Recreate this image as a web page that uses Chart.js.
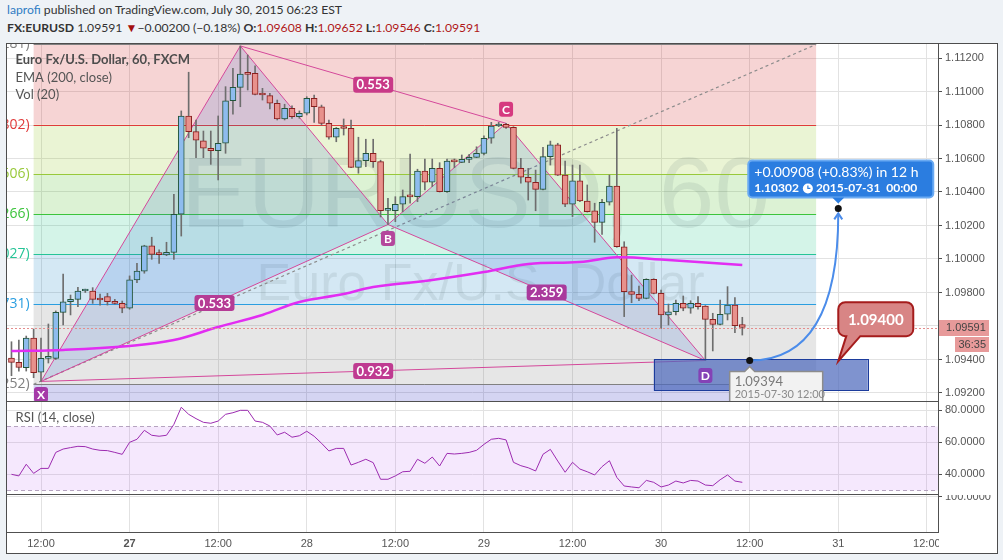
<!DOCTYPE html>
<html>
<head>
<meta charset="utf-8">
<title>EURUSD, 60</title>
<script src="https://cdn.jsdelivr.net/npm/chart.js@4.4.1/dist/chart.umd.min.js"></script>
<style>
body { margin: 0; width: 1003px; height: 560px; background: #eef2f6; overflow: hidden; font-family: Lato, sans-serif; }
#head { position: absolute; left: 7px; top: 1px; font-size: 12.2px; line-height: 18px; color: #333; white-space: nowrap; }
#head .user { color: #2f7cc4; }
#head .dn { color: #a30f0f; font-size: 12px; }
#head .v { color: #b01818; }
#frame { position: absolute; left: 6px; top: 43px; width: 990px; height: 509px; border: 1px solid #4d4d4d; background: #fff; }
canvas { position: absolute; left: 7px; }
</style>
</head>
<body>
<div id="head">
  <div><span class="user">laprofi</span> published on TradingView.com, July 30, 2015 06:23 EST</div>
  <div id="quote"></div>
</div>
<div id="frame"></div>
<canvas id="price" width="990" height="358" style="top:44px"></canvas>
<canvas id="rsi" width="990" height="93" style="top:402px"></canvas>
<canvas id="vol" width="990" height="57" style="top:495px"></canvas>

<script>
// hourly candles, time counted in hours from 2015-07-26 00:00
const firstHour = 8
const opens = [
    1.09409, 1.09383, 1.09351, 1.09528, 1.09324, 1.09407, 1.09407, 1.09681, 1.09745, 1.09759,
    1.09809, 1.09809, 1.09757, 1.09775, 1.09745, 1.09735, 1.09706, 1.09875, 1.09928, 1.10079,
    1.10028, 1.10024, 1.10040, 1.10267, 1.10854, 1.10760, 1.10706, 1.10661, 1.10647, 1.10691,
    1.10945, 1.11025, 1.11104, 1.11109, 1.10981, 1.10975, 1.10930, 1.10836, 1.10900, 1.10850,
    1.10870, 1.10959, 1.10909, 1.10810, 1.10727, 1.10781, 1.10780, 1.10547, 1.10587, 1.10631,
    1.10581, 1.10290, 1.10288, 1.10327, 1.10373, 1.10372, 1.10525, 1.10458, 1.10541, 1.10402,
    1.10582, 1.10577, 1.10595, 1.10607, 1.10631, 1.10721, 1.10794, 1.10804, 1.10786, 1.10541,
    1.10488, 1.10458, 1.10416, 1.10611, 1.10681, 1.10501, 1.10327, 1.10467, 1.10346, 1.10287,
    1.10219, 1.10339, 1.10435, 1.10073, 1.09805, 1.09789, 1.09765, 1.09879, 1.09795, 1.09666,
    1.09685, 1.09735, 1.09706, 1.09735, 1.09719, 1.09640, 1.09610, 1.09670, 1.09725, 1.09608,
]
const highs = [
    1.09506, 1.09516, 1.09540, 1.09582, 1.09528, 1.09612, 1.09690, 1.09910, 1.09785, 1.09831,
    1.09820, 1.09829, 1.09791, 1.09795, 1.09759, 1.09749, 1.09899, 1.09974, 1.10082, 1.10130,
    1.10054, 1.10100, 1.10386, 1.10884, 1.11115, 1.10830, 1.10764, 1.10764, 1.10854, 1.11029,
    1.11139, 1.11272, 1.11218, 1.11154, 1.11019, 1.10989, 1.10949, 1.10924, 1.10915, 1.10884,
    1.10969, 1.10979, 1.10919, 1.10830, 1.10785, 1.10836, 1.10830, 1.10727, 1.10715, 1.10715,
    1.10590, 1.10362, 1.10372, 1.10412, 1.10627, 1.10536, 1.10597, 1.10597, 1.10575, 1.10597,
    1.10597, 1.10621, 1.10625, 1.10670, 1.10736, 1.10816, 1.10816, 1.10810, 1.10790, 1.10601,
    1.10541, 1.10531, 1.10667, 1.10704, 1.10691, 1.10585, 1.10561, 1.10561, 1.10442, 1.10333,
    1.10356, 1.10501, 1.10780, 1.10103, 1.09904, 1.09839, 1.09882, 1.09882, 1.09815, 1.09731,
    1.09755, 1.09779, 1.09751, 1.09775, 1.09722, 1.09676, 1.09755, 1.09835, 1.09769, 1.09652,
]
const lows = [
    1.09303, 1.09331, 1.09331, 1.09291, 1.09269, 1.09379, 1.09400, 1.09606, 1.09666, 1.09715,
    1.09800, 1.09735, 1.09725, 1.09725, 1.09731, 1.09679, 1.09700, 1.09859, 1.09915, 1.09998,
    1.09974, 1.10020, 1.09998, 1.10137, 1.10724, 1.10605, 1.10605, 1.10565, 1.10472, 1.10631,
    1.10864, 1.10909, 1.11009, 1.10980, 1.10949, 1.10896, 1.10830, 1.10830, 1.10840, 1.10840,
    1.10860, 1.10816, 1.10800, 1.10715, 1.10700, 1.10740, 1.10545, 1.10512, 1.10551, 1.10547,
    1.10251, 1.10206, 1.10223, 1.10282, 1.10333, 1.10342, 1.10412, 1.10432, 1.10400, 1.10398,
    1.10545, 1.10575, 1.10575, 1.10605, 1.10621, 1.10691, 1.10790, 1.10780, 1.10538, 1.10452,
    1.10352, 1.10288, 1.10412, 1.10561, 1.10498, 1.10312, 1.10253, 1.10343, 1.10280, 1.10100,
    1.10147, 1.10322, 1.10070, 1.09656, 1.09739, 1.09751, 1.09762, 1.09792, 1.09586, 1.09606,
    1.09666, 1.09691, 1.09676, 1.09700, 1.09394, 1.09451, 1.09607, 1.09636, 1.09560, 1.09546,
]
const closes = [
    1.09383, 1.09352, 1.09528, 1.09322, 1.09407, 1.09410, 1.09681, 1.09745, 1.09759, 1.09809,
    1.09811, 1.09759, 1.09755, 1.09745, 1.09735, 1.09706, 1.09875, 1.09928, 1.10079, 1.10028,
    1.10026, 1.10040, 1.10267, 1.10854, 1.10760, 1.10710, 1.10661, 1.10647, 1.10691, 1.10945,
    1.11025, 1.11104, 1.11102, 1.10983, 1.10979, 1.10930, 1.10836, 1.10900, 1.10850, 1.10870,
    1.10959, 1.10909, 1.10810, 1.10727, 1.10780, 1.10779, 1.10547, 1.10587, 1.10631, 1.10581,
    1.10288, 1.10292, 1.10327, 1.10372, 1.10371, 1.10525, 1.10458, 1.10541, 1.10402, 1.10585,
    1.10580, 1.10595, 1.10607, 1.10631, 1.10721, 1.10794, 1.10804, 1.10786, 1.10541, 1.10488,
    1.10458, 1.10416, 1.10611, 1.10681, 1.10501, 1.10327, 1.10467, 1.10346, 1.10282, 1.10219,
    1.10339, 1.10435, 1.10073, 1.09805, 1.09789, 1.09765, 1.09879, 1.09795, 1.09666, 1.09685,
    1.09735, 1.09706, 1.09735, 1.09715, 1.09640, 1.09610, 1.09670, 1.09725, 1.09602, 1.09591,
]
const rsi = [
    39.8, 38.8, 46.1, 40.4, 43.5, 43.5, 53.5, 55.6, 56.5, 57.3,
    57.1, 55.6, 54.8, 54.6, 53.5, 52.3, 59.8, 61.7, 67.3, 64.2,
    63.6, 64.2, 71.0, 81.7, 77.3, 74.6, 72.3, 71.7, 73.1, 77.3,
    78.3, 79.8, 79.8, 73.1, 72.3, 70.0, 64.4, 66.1, 63.0, 63.9,
    66.7, 63.6, 59.2, 54.4, 56.0, 56.0, 45.6, 47.3, 49.2, 47.1,
    36.7, 36.7, 38.8, 41.4, 41.7, 49.2, 46.7, 50.6, 45.0, 52.9,
    52.5, 52.9, 53.5, 54.8, 58.5, 61.7, 62.3, 61.3, 47.3, 45.2,
    43.9, 41.9, 52.3, 55.4, 48.1, 41.1, 47.3, 43.1, 41.4, 39.4,
    44.6, 48.3, 37.9, 32.5, 31.9, 31.4, 36.0, 34.8, 31.9, 33.1,
    35.6, 34.4, 36.0, 35.6, 33.1, 32.7, 36.4, 39.4, 35.6, 34.8,
]
// EMA(200) read at a few hours
const emaHours = [8, 15, 24, 30, 36, 42, 47, 53, 57, 65, 72, 78, 85, 90, 96, 107]
const emaValues = [1.09451, 1.09457, 1.09481, 1.09516, 1.09594, 1.09666, 1.09743, 1.09791,
    1.09833, 1.09875, 1.09922, 1.09970, 1.09982, 1.10010, 1.09997, 1.09964]

const timeTicks = [12, 24, 36, 48, 60, 72, 84, 96, 108, 120, 132]
const priceTicks = [1.092, 1.094, 1.096, 1.098, 1.1, 1.102, 1.104, 1.106, 1.108, 1.11, 1.112]
const rsiTicks = [40, 60, 80]
const volTicks = [100]

// fib retracement drawn from hour 11 to hour 117
const fibFrom = 11
const fibTo = 117
const fibRatios = ['0', '0.236', '0.382', '0.5', '0.618', '0.764', '1']
const fibPrices = [1.11281, 1.10802, 1.10506, 1.10266, 1.10027, 1.09731, 1.09252]

// XABCD pattern
const patternNames = ['X', 'A', 'B', 'C', 'D']
const patternTimes = [12, 39, 59, 75, 102]
const patternPrices = [1.09269, 1.11272, 1.10206, 1.10810, 1.09394]
const legRatios = [[0, 2, '0.533'], [1, 3, '0.553'], [2, 4, '2.359'], [0, 4, '0.932']]

// projection and notes
const zoneHours = [95, 124]
const zonePrices = [1.09214, 1.094]
const moveHours = [108, 120]
const movePrices = [1.09394, 1.10302]
const noteHour = 120
const notePrice = 1.0939
const noteText = '1.09400'
const countdown = '36:35'
const dayChange = '\u22120.00200 (\u22120.18%)'

const viewHours = [7.394, 133.51]
const priceRange = [1.091522, 1.112836]
const rsiRange = [27.5, 85]
const volRange = [0, 105.7]

// ------------------------------------------------------------------
const gridColor = '#e2e2e2'
const frameColor = '#505050'
const ui = 'Lato, sans-serif'

const last = closes.length - 1
document.getElementById('quote').innerHTML =
    '<b>FX:EURUSD</b> ' + closes[last].toFixed(5) + ' <span class="dn">\u25BC</span>' + dayChange +
    ' <b>O:</b><span class="v">' + opens[last].toFixed(5) + '</span>' +
    ' <b>H:</b><span class="v">' + highs[last].toFixed(5) + '</span>' +
    ' <b>L:</b><span class="v">' + lows[last].toFixed(5) + '</span>' +
    ' <b>C:</b><span class="v">' + closes[last].toFixed(5) + '</span>'

const times = opens.map((_, i) => firstHour + i)
const bull = opens.map((o, i) => closes[i] >= o)
const pad = n => String(n).padStart(2, '0')
const dayOf = h => '2015-07-' + (26 + Math.floor(h / 24))
const pt = i => ({ x: patternTimes[i], y: patternPrices[i] })

Chart.defaults.font.family = '"Liberation Sans", Arial, sans-serif'
Chart.defaults.font.size = 11
Chart.defaults.color = '#555'
Chart.defaults.animation = false
Chart.defaults.events = []
Chart.defaults.plugins.legend.display = false
Chart.defaults.plugins.tooltip.enabled = false

function timeAxis(height, labels) {
    return {
        type: 'linear', min: viewHours[0], max: viewHours[1], offset: false,
        grid: { color: gridColor, drawTicks: false, offset: false },
        border: { color: frameColor },
        ticks: {
            display: labels, maxRotation: 0, autoSkip: false, padding: 5,
            callback: v => (v % 24 === 0 ? String(26 + v / 24) : '12:00'),
            font: c => ({ size: 11, weight: c.tick && c.tick.value === 24 ? 'bold' : 'normal' }),
        },
        afterBuildTicks: s => { s.ticks = timeTicks.map(v => ({ value: v })) },
        afterFit: s => { s.height = height; s.paddingLeft = 0; s.paddingRight = 0 },
    }
}
function valueAxis(range, ticks, digits) {
    return {
        type: 'linear', position: 'right', min: range[0], max: range[1],
        grid: { color: gridColor, tickLength: 4, tickColor: frameColor },
        border: { color: frameColor },
        ticks: { padding: 3, autoSkip: false, callback: v => v.toFixed(digits) },
        afterBuildTicks: s => { s.ticks = ticks.map(v => ({ value: v })) },
        afterFit: s => { s.width = 59; s.paddingTop = 0; s.paddingBottom = 0 },
    }
}
function clipArea(ctx, a) {
    ctx.beginPath()
    ctx.rect(a.left, a.top, a.width, a.height)
    ctx.clip()
}
function tag(ctx, cx, cy, w, h, fill, text, font) {
    ctx.fillStyle = fill
    ctx.beginPath()
    ctx.roundRect(cx - w / 2, cy - h / 2, w, h, 3)
    ctx.fill()
    ctx.fillStyle = '#fff'
    ctx.font = font
    ctx.textAlign = 'center'
    ctx.textBaseline = 'middle'
    ctx.fillText(text, cx, cy + 0.5)
}

const fibColors = ['#808080', '#e03a3a', '#98c93a', '#3cc43c', '#26c496', '#2a9ee0', '#808080']
const fibFills = ['rgba(210,40,40,0.2)', 'rgba(150,200,40,0.2)', 'rgba(80,190,40,0.2)',
    'rgba(40,200,140,0.2)', 'rgba(40,140,200,0.2)', 'rgba(128,128,128,0.2)', 'rgba(40,40,190,0.2)']
const tagColors = ['#a53aa8', '#c23a8e', '#b4479c', '#d6397f', '#8442b6']
const tagOffsets = [13, -14, 14, -14, 15]
const legColors = ['#b53b95', '#c93a88', '#a93a9d', '#bf3b91']

const priceDecor = {
    id: 'priceDecor',
    beforeDatasetsDraw(chart) {
        const { ctx, chartArea: a, scales: { x, y } } = chart
        const x0 = x.getPixelForValue(fibFrom), x1 = x.getPixelForValue(fibTo)
        ctx.save()
        clipArea(ctx, a)
        fibPrices.forEach((p, i) => {
            const top = y.getPixelForValue(p)
            const bot = i + 1 < fibPrices.length ? y.getPixelForValue(fibPrices[i + 1]) : a.bottom
            ctx.fillStyle = fibFills[i]
            ctx.fillRect(x0, top, x1 - x0, bot - top)
        })
        // watermark
        const cx = (a.left + a.right) / 2
        ctx.fillStyle = 'rgba(60,95,95,0.11)'
        ctx.textAlign = 'center'
        ctx.textBaseline = 'alphabetic'
        ctx.font = '100px "Liberation Sans", Arial, sans-serif'
        ctx.fillText('EURUSD, 60', cx + 3, a.top + 183)
        ctx.font = '52px "Liberation Sans", Arial, sans-serif'
        ctx.fillText('Euro Fx/U.S. Dollar', cx + 8, a.top + 256)
        // fib levels
        ctx.font = '14px "Open Sans", sans-serif'
        ctx.textAlign = 'right'
        ctx.textBaseline = 'middle'
        ctx.lineWidth = 1
        fibPrices.forEach((p, i) => {
            const ly = Math.round(y.getPixelForValue(p)) + 0.5
            ctx.strokeStyle = fibColors[i]
            ctx.beginPath()
            ctx.moveTo(x0, ly)
            ctx.lineTo(x1, ly)
            ctx.stroke()
            ctx.fillStyle = fibColors[i]
            ctx.fillText(fibRatios[i] + '(' + p.toFixed(5) + ')', x0 - 4, ly)
        })
        ctx.setLineDash([3, 3])
        ctx.strokeStyle = '#8c8c8c'
        ctx.lineWidth = 1.2
        ctx.beginPath()
        ctx.moveTo(x0, y.getPixelForValue(fibPrices[fibPrices.length - 1]))
        ctx.lineTo(x1, y.getPixelForValue(fibPrices[0]))
        ctx.stroke()
        ctx.setLineDash([])
        // pattern fills
        ctx.fillStyle = 'rgba(40,100,210,0.16)'
        ;[[0, 1, 2], [2, 3, 4]].forEach(tri => {
            ctx.beginPath()
            tri.forEach((i, k) => {
                const px = x.getPixelForValue(patternTimes[i]), py = y.getPixelForValue(patternPrices[i])
                k ? ctx.lineTo(px, py) : ctx.moveTo(px, py)
            })
            ctx.closePath()
            ctx.fill()
        })
        ctx.restore()
    },
    afterDatasetsDraw(chart) {
        const { ctx, chartArea: a, scales: { x, y } } = chart
        const px = v => x.getPixelForValue(v), py = v => y.getPixelForValue(v)
        ctx.save()
        clipArea(ctx, a)
        // last price line
        const ly = Math.round(py(closes[last])) + 0.5
        ctx.strokeStyle = '#e48c8c'
        ctx.lineWidth = 1
        ctx.setLineDash([2, 2])
        ctx.beginPath()
        ctx.moveTo(a.left, ly)
        ctx.lineTo(a.right, ly)
        ctx.stroke()
        ctx.setLineDash([])
        // target zone
        const zl = px(zoneHours[0]), zr = px(zoneHours[1]), zt = py(zonePrices[1]), zb = py(zonePrices[0])
        ctx.fillStyle = 'rgba(78,106,188,0.72)'
        ctx.fillRect(zl, zt, zr - zl, zb - zt)
        ctx.strokeStyle = '#1c3c9c'
        ctx.strokeRect(Math.round(zl) + 0.5, Math.round(zt) + 0.5, Math.round(zr - zl), Math.round(zb - zt))
        // pattern tags
        const P = i => [px(patternTimes[i]), py(patternPrices[i])]
        legRatios.forEach(([i, j, text], k) => {
            const [x1, y1] = P(i), [x2, y2] = P(j)
            tag(ctx, (x1 + x2) / 2, (y1 + y2) / 2, 40, 16, legColors[k], text, 'bold 13px ' + ui)
        })
        patternNames.forEach((nm, i) => {
            const [x0, y0] = P(i)
            tag(ctx, x0, y0 + tagOffsets[i], 14, 15, tagColors[i], nm, 'bold 12px ' + ui)
        })
        // projected move
        const sx = px(moveHours[0]), sy = py(movePrices[0]), ex = px(moveHours[1]), ey = py(movePrices[1])
        ctx.strokeStyle = '#4b8cea'
        ctx.lineWidth = 2
        ctx.beginPath()
        ctx.moveTo(sx, sy)
        ctx.quadraticCurveTo(ex, sy, ex, ey + 5)
        ctx.stroke()
        ctx.beginPath()
        ctx.moveTo(ex - 4, ey + 11)
        ctx.lineTo(ex, ey + 5)
        ctx.lineTo(ex + 4, ey + 11)
        ctx.stroke()
        ctx.fillStyle = '#111'
        ;[[sx, sy], [ex, ey]].forEach(([cx, cy]) => {
            ctx.beginPath()
            ctx.arc(cx, cy, 3.5, 0, Math.PI * 2)
            ctx.fill()
        })
        // start label
        const gl = sx - 20, gt = sy + 11
        ctx.fillStyle = '#f2f2f2'
        ctx.strokeStyle = '#8c8c8c'
        ctx.lineWidth = 1.5
        ctx.beginPath()
        ctx.moveTo(gl, gt)
        ctx.lineTo(sx - 5, gt)
        ctx.lineTo(sx, gt - 5)
        ctx.lineTo(sx + 5, gt)
        ctx.lineTo(gl + 93, gt)
        ctx.lineTo(gl + 93, gt + 34)
        ctx.lineTo(gl, gt + 34)
        ctx.closePath()
        ctx.fill()
        ctx.stroke()
        ctx.textAlign = 'left'
        ctx.textBaseline = 'alphabetic'
        ctx.fillStyle = '#7a7a7a'
        ctx.font = '13px ' + ui
        ctx.fillText(movePrices[0].toFixed(5), gl + 5, gt + 15)
        ctx.fillStyle = '#8a8a8a'
        ctx.font = '11px ' + ui
        ctx.fillText(dayOf(moveHours[0]) + ' ' + pad(moveHours[0] % 24) + ':00', gl + 5, gt + 27)
        // target label
        const diff = movePrices[1] - movePrices[0]
        const change = '+' + diff.toFixed(5) + ' (+' + (diff / movePrices[0] * 100).toFixed(2) + '%) in ' +
            (moveHours[1] - moveHours[0]) + ' h'
        const bl = ex - 90, bt = ey - 48
        ctx.fillStyle = '#2b7de0'
        ctx.strokeStyle = '#6aaaf2'
        ctx.lineWidth = 2
        ctx.beginPath()
        ctx.roundRect(bl, bt, 185, 37, 4)
        ctx.fill()
        ctx.stroke()
        ctx.beginPath()
        ctx.moveTo(ex - 6, bt + 37)
        ctx.lineTo(ex, bt + 43)
        ctx.lineTo(ex + 6, bt + 37)
        ctx.closePath()
        ctx.fill()
        ctx.fillStyle = '#fff'
        ctx.font = '14px ' + ui
        ctx.fillText(change, bl + 6, bt + 17)
        ctx.font = 'bold 12px ' + ui
        const head = movePrices[1].toFixed(5)
        ctx.fillText(head, bl + 6, bt + 32)
        const cx = bl + 6 + ctx.measureText(head).width + 9
        ctx.beginPath()
        ctx.arc(cx, bt + 28, 5, 0, Math.PI * 2)
        ctx.fill()
        ctx.strokeStyle = '#2b7de0'
        ctx.lineWidth = 1.2
        ctx.beginPath()
        ctx.moveTo(cx, bt + 25)
        ctx.lineTo(cx, bt + 28)
        ctx.lineTo(cx + 2.5, bt + 28)
        ctx.stroke()
        ctx.fillText(dayOf(moveHours[1]) + '  ' + pad(moveHours[1] % 24) + ':00', cx + 8, bt + 32)
        // price note
        const nx = px(noteHour), ny = py(notePrice)
        const L = nx, T = ny - 59, R = nx + 75, B = ny - 25, r = 7
        ctx.beginPath()
        ctx.moveTo(L + r, T)
        ctx.arcTo(R, T, R, T + r, r)
        ctx.arcTo(R, B, R - r, B, r)
        ctx.lineTo(L + 22, B)
        ctx.lineTo(nx, ny)
        ctx.lineTo(L + 8, B)
        ctx.arcTo(L, B, L, B - r, r)
        ctx.arcTo(L, T, L + r, T, r)
        ctx.closePath()
        ctx.fillStyle = '#d88585'
        ctx.fill()
        ctx.strokeStyle = '#a51c1c'
        ctx.lineWidth = 2
        ctx.stroke()
        ctx.fillStyle = '#fff'
        ctx.font = 'bold 15px ' + ui
        ctx.textAlign = 'center'
        ctx.textBaseline = 'middle'
        ctx.fillText(noteText, (L + R) / 2, (T + B) / 2 + 1)
        ctx.restore()
    },
    afterDraw(chart) {
        const { ctx, chartArea: a, scales: { y } } = chart
        ctx.save()
        ctx.textAlign = 'left'
        ctx.textBaseline = 'alphabetic'
        ctx.fillStyle = '#4d4d4d'
        ctx.font = 'bold 13px ' + ui
        ctx.fillText('Euro Fx/U.S. Dollar, 60, FXCM', a.left + 8.5, a.top + 20)
        ctx.fillStyle = '#555'
        ctx.font = '13px ' + ui
        ctx.fillText('EMA (200, close)', a.left + 8.5, a.top + 38)
        ctx.fillText('Vol (20)', a.left + 8.5, a.top + 55)
        // last price on the axis
        const ly = Math.round(y.getPixelForValue(closes[last]))
        ctx.fillStyle = '#e79a9a'
        ctx.fillRect(a.right + 1, ly - 8, 50, 16)
        ctx.fillRect(a.right + 17, ly + 9, 34, 15)
        ctx.fillStyle = '#444'
        ctx.font = '11px "Liberation Sans", Arial, sans-serif'
        ctx.textBaseline = 'middle'
        ctx.fillText(closes[last].toFixed(5), a.right + 8, ly)
        ctx.textAlign = 'right'
        ctx.fillText(countdown, a.right + 48, ly + 17)
        ctx.restore()
    },
}

new Chart(document.getElementById('price'), {
    type: 'bar',
    data: {
        datasets: [
            { type: 'line', data: [pt(0), pt(1), pt(2), pt(0)], borderColor: '#d4489a', borderWidth: 1, pointRadius: 0, tension: 0, order: 6 },
            { type: 'line', data: [pt(2), pt(3), pt(4), pt(2)], borderColor: '#d4489a', borderWidth: 1, pointRadius: 0, tension: 0, order: 6 },
            { type: 'line', data: [pt(1), pt(3)], borderColor: '#d4489a', borderWidth: 1, pointRadius: 0, order: 6 },
            { type: 'line', data: [pt(0), pt(4)], borderColor: '#d4489a', borderWidth: 1, pointRadius: 0, order: 6 },
            {
                data: times.map((t, i) => ({ x: t, y: [lows[i], highs[i]] })),
                backgroundColor: '#6e6e6e', barThickness: 1, grouped: false, order: 4,
            },
            {
                data: times.map((t, i) => ({ x: t, y: [opens[i], closes[i]] })),
                backgroundColor: bull.map(b => (b ? '#8ebcee' : '#e8918c')),
                borderColor: bull.map(b => (b ? '#23553a' : '#8a1f1f')),
                borderWidth: 1, borderSkipped: false, barThickness: 6, minBarLength: 2,
                grouped: false, order: 3,
            },
            {
                type: 'line', data: emaHours.map((h, i) => ({ x: h, y: emaValues[i] })),
                borderColor: '#e22df2', borderWidth: 2.5, pointRadius: 0, tension: 0.4, order: 1,
            },
        ],
    },
    options: {
        responsive: false, maintainAspectRatio: false,
        layout: { autoPadding: false },
        scales: { x: timeAxis(1, false), y: valueAxis(priceRange, priceTicks, 5) },
    },
    plugins: [priceDecor],
})

const rsiDecor = {
    id: 'rsiDecor',
    beforeDatasetsDraw(chart) {
        const { ctx, chartArea: a, scales: { y } } = chart
        const y70 = Math.round(y.getPixelForValue(70)) + 0.5, y30 = Math.round(y.getPixelForValue(30)) + 0.5
        ctx.save()
        ctx.fillStyle = 'rgba(190,110,240,0.16)'
        ctx.fillRect(a.left, y70, a.width, y30 - y70)
        ctx.strokeStyle = '#b5a3bf'
        ctx.setLineDash([4, 3])
        ctx.lineWidth = 1
        ;[y70, y30].forEach(v => {
            ctx.beginPath()
            ctx.moveTo(a.left, v)
            ctx.lineTo(a.right, v)
            ctx.stroke()
        })
        ctx.restore()
    },
    afterDraw(chart) {
        const { ctx, chartArea: a } = chart
        ctx.save()
        ctx.fillStyle = '#555'
        ctx.font = '13px ' + ui
        ctx.textAlign = 'left'
        ctx.fillText('RSI (14, close)', a.left + 8.5, a.top + 20)
        ctx.restore()
    },
}

new Chart(document.getElementById('rsi'), {
    type: 'line',
    data: {
        datasets: [{
            data: times.map((t, i) => ({ x: t, y: rsi[i] })),
            borderColor: '#9c2bb0', borderWidth: 1, pointRadius: 0, tension: 0,
        }],
    },
    options: {
        responsive: false, maintainAspectRatio: false,
        layout: { autoPadding: false },
        scales: { x: timeAxis(1, false), y: valueAxis(rsiRange, rsiTicks, 4) },
    },
    plugins: [rsiDecor],
})

new Chart(document.getElementById('vol'), {
    type: 'line',
    data: { datasets: [] },
    options: {
        responsive: false, maintainAspectRatio: false,
        layout: { autoPadding: false },
        scales: { x: timeAxis(20, true), y: valueAxis(volRange, volTicks, 4) },
    },
    plugins: [{
        id: 'axisCorner',
        afterDraw(chart) {
            const { ctx, chartArea: a } = chart
            ctx.fillStyle = '#fff'
            ctx.fillRect(a.right + 1, a.bottom + 1, chart.width - a.right, chart.height - a.bottom)
        },
    }],
})
</script>
</body>
</html>
